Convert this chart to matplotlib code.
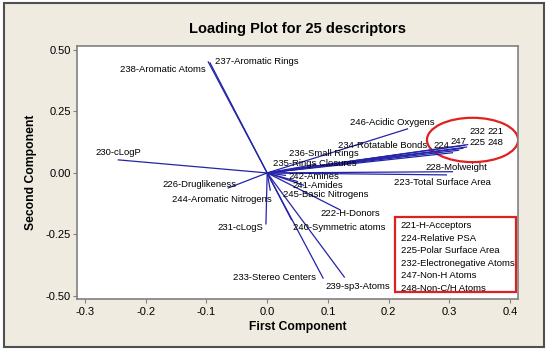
import matplotlib.pyplot as plt
from matplotlib.patches import Ellipse, Rectangle

plt.rcParams['font.family'] = ['Liberation Sans', 'DejaVu Sans']

# loadings (first component, second component)
ids = [221, 222, 223, 224, 225, 226, 228, 230, 231, 232, 233, 234, 235,
       236, 237, 238, 239, 240, 241, 242, 244, 245, 246, 247, 248]
names = ['H-Acceptors', 'H-Donors', 'Total Surface Area', 'Relative PSA',
         'Polar Surface Area', 'Druglikeness', 'Molweight', 'cLogP', 'cLogS',
         'Electronegative Atoms', 'Stereo Centers', 'Rotatable Bonds',
         'Rings Closures', 'Small Rings', 'Aromatic Rings', 'Aromatic Atoms',
         'sp3-Atoms', 'Symmetric atoms', 'Amides', 'Amines',
         'Aromatic Nitrogens', 'Basic Nitrogens', 'Acidic Oxygens',
         'Non-H Atoms', 'Non-C/H Atoms']
pc1 = [0.330, 0.120, 0.295, 0.305, 0.322, -0.064, 0.305, -0.245, -0.002,
       0.325, 0.092, 0.220, 0.060, 0.080, -0.094, -0.097, 0.127, 0.040,
       0.050, 0.030, 0.005, 0.060, 0.231, 0.315, 0.328]
pc2 = [0.115, -0.150, -0.008, 0.082, 0.100, -0.061, 0.005, 0.053, -0.207,
       0.112, -0.427, 0.075, 0.020, 0.035, 0.447, 0.451, -0.423, -0.190,
       -0.035, -0.010, -0.070, -0.050, 0.179, 0.092, 0.105]

circled = [221, 224, 225, 232, 247, 248]

# where each label sits (data units, left edge / vertical centre)
label_pos = {
    221: (0.362, 0.167), 222: (0.087, -0.163), 223: (0.208, -0.037),
    224: (0.273, 0.112), 225: (0.333, 0.124), 226: (-0.173, -0.049),
    228: (0.260, 0.024), 230: (-0.282, 0.081), 231: (-0.082, -0.220),
    232: (0.333, 0.167), 233: (-0.056, -0.423), 234: (0.117, 0.110),
    235: (0.010, 0.037), 236: (0.036, 0.077), 237: (-0.086, 0.451),
    238: (-0.242, 0.419), 239: (0.096, -0.463), 240: (0.043, -0.220),
    241: (0.041, -0.053), 242: (0.035, -0.016), 244: (-0.157, -0.106),
    245: (0.026, -0.089), 246: (0.137, 0.203), 247: (0.301, 0.126),
    248: (0.362, 0.124),
}

bg = '#efebe0'
fig = plt.figure(figsize=(5.5, 3.53), dpi=100)
fig.patch.set_facecolor('white')
frame = Rectangle((4 / 550, 6 / 353), 540 / 550, 344 / 353,
                  transform=fig.transFigure, facecolor=bg,
                  edgecolor='#505050', linewidth=1.5, zorder=-5)
fig.add_artist(frame)

ax = fig.add_axes([0.14, 0.153, 0.802, 0.717])
ax.set_facecolor('white')

for i, n, x, y in zip(ids, names, pc1, pc2):
    ax.plot([0, x], [0, y], color='#2424a8', linewidth=0.9)
    lx, ly = label_pos[i]
    txt = str(i) if i in circled else f'{i}-{n}'
    ax.text(lx, ly, txt, fontsize=6.8, ha='left', va='center')

ax.add_patch(Ellipse((0.338, 0.134), 0.150, 0.180, fill=False,
                     edgecolor='#e02020', linewidth=1.6))

# legend box for the circled descriptors
leg = [f'{i}-{n}' for i, n in zip(ids, names) if i in circled]
ax.add_patch(Rectangle((0.211, -0.483), 0.199, 0.305, fill=False,
                       edgecolor='#e02020', linewidth=1.6))
for k, t in enumerate(leg):
    ax.text(0.220, -0.215 - k * 0.0505, t, fontsize=6.8, ha='left',
            va='center')

ax.set_xlim(-0.313, 0.413)
ax.set_ylim(-0.512, 0.516)
ax.set_xticks([-0.3, -0.2, -0.1, 0.0, 0.1, 0.2, 0.3, 0.4])
ax.set_xticklabels(['-0.3', '-0.2', '-0.1', '0.0', '0.1', '0.2', '0.3', '0.4'])
ax.set_yticks([-0.5, -0.25, 0.0, 0.25, 0.5])
ax.set_yticklabels(['-0.50', '-0.25', '0.00', '0.25', '0.50'])
ax.tick_params(axis='x', labelsize=8, length=3, color='#808080', pad=3)
ax.tick_params(axis='y', labelsize=8, length=3, color='#808080', pad=1.5)
for s in ax.spines.values():
    s.set_color('#808080')
    s.set_linewidth(1.2)

ax.set_xlabel('First Component', fontsize=8.7, fontweight='bold', labelpad=3)
ax.set_ylabel('Second Component', fontsize=8.7, fontweight='bold', labelpad=6)
ax.set_title('Loading Plot for 25 descriptors', fontsize=10.5,
             fontweight='bold', pad=9)

fig.savefig('out.png', dpi=100, facecolor=fig.get_facecolor())
